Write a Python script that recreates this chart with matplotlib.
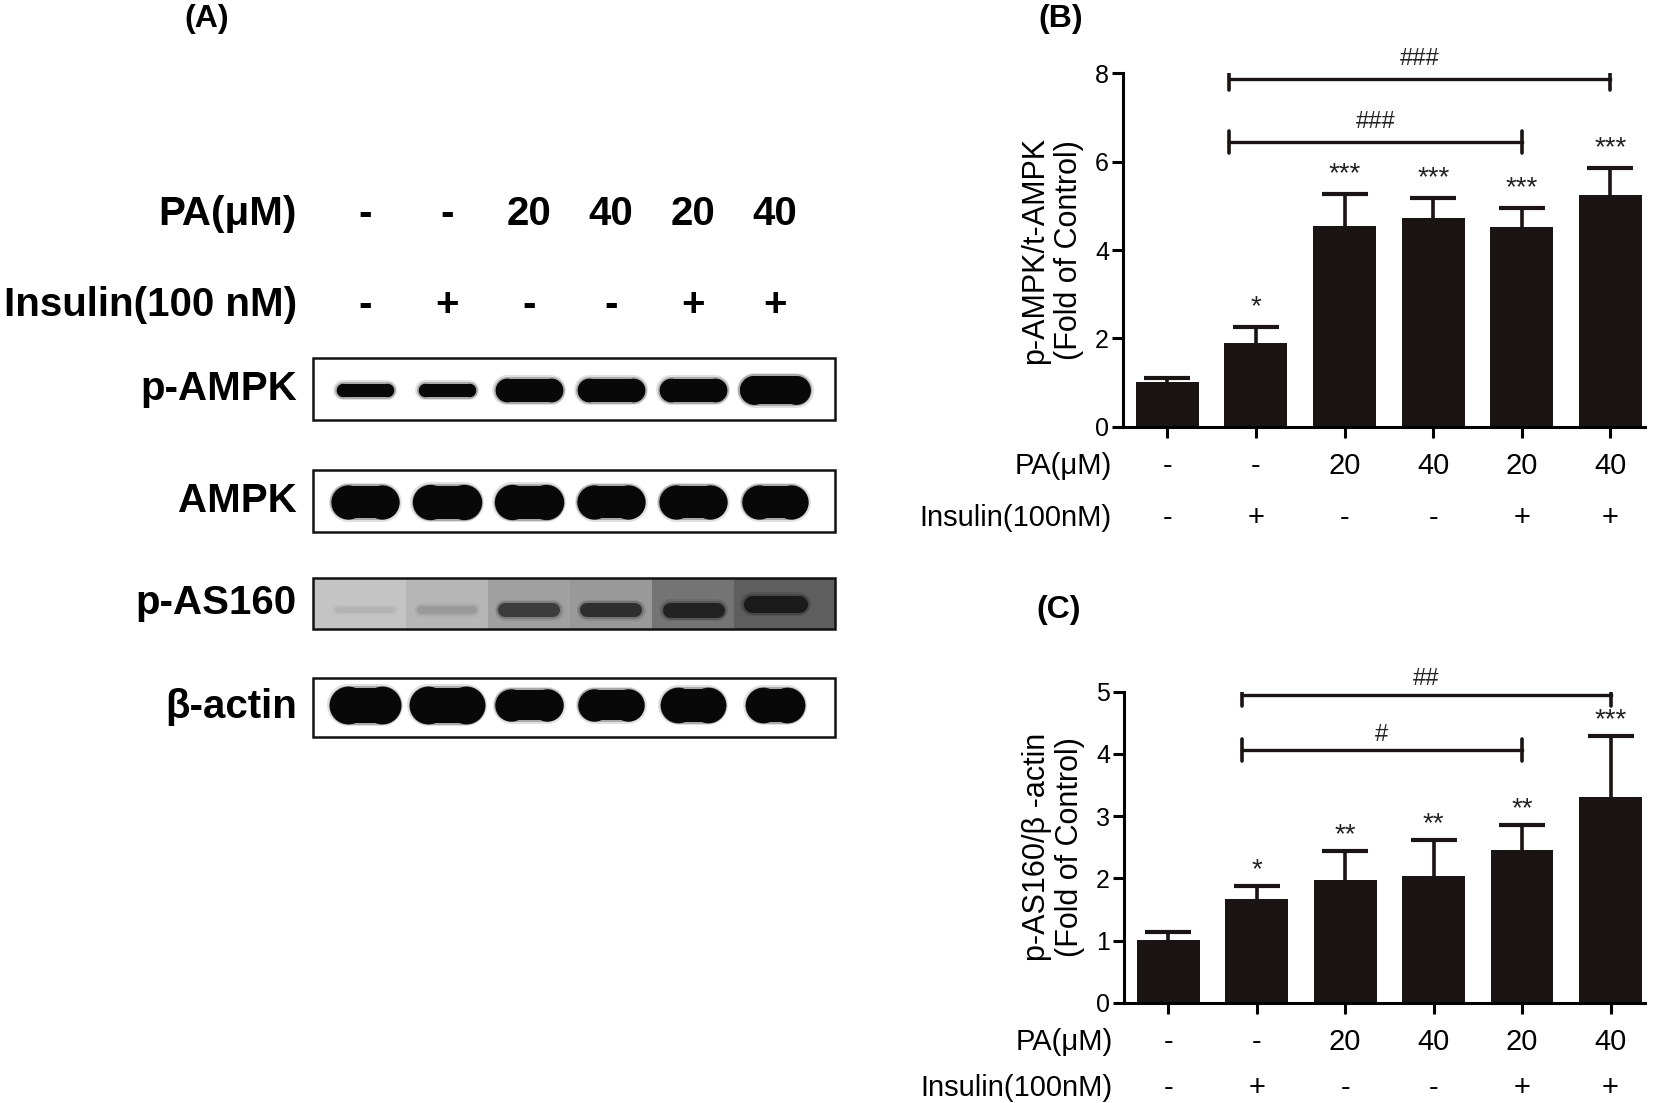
import numpy as np
import matplotlib
matplotlib.use('Agg')
import matplotlib.pyplot as plt
from matplotlib.patches import Rectangle
from matplotlib.transforms import blended_transform_factory

plt.rcParams['font.family'] = ['Liberation Sans', 'DejaVu Sans']

# treatment rows
pa_labels = ['-', '-', '20', '40', '20', '40']
insulin_labels = ['-', '+', '-', '-', '+', '+']

# (B) p-AMPK / t-AMPK, fold of control
ampk_mean = [1.02, 1.90, 4.54, 4.72, 4.51, 5.24]
ampk_sem = [0.08, 0.35, 0.73, 0.45, 0.43, 0.62]
ampk_stars = ['', '*', '***', '***', '***', '***']
ampk_brackets = [(0.70, 5, 7.88, '###'), (0.70, 4, 6.45, '###')]

# (C) p-AS160 / beta-actin, fold of control
as160_mean = [1.01, 1.66, 1.97, 2.04, 2.46, 3.31]
as160_sem = [0.13, 0.22, 0.47, 0.58, 0.40, 0.98]
as160_stars = ['', '*', '**', '**', '**', '***']
as160_brackets = [(0.83, 5, 4.95, '##'), (0.83, 4, 4.06, '#')]

# (A) blot bands: width / height in px, grey level
pampk_w = [57, 57, 67, 67, 67, 70]
pampk_h = [13, 13, 23, 23, 23, 28]
tampk_w = [68, 70, 70, 68, 68, 66]
tampk_h = [32, 33, 33, 32, 32, 32]
pas_bg = ['#c4c4c4', '#b6b6b6', '#a0a0a0', '#999999', '#747474', '#5e5e5e']
pas_band = ['#b4b4b4', '#9a9a9a', '#3c3c3c', '#2e2e2e', '#222222', '#1a1a1a']
pas_w = [60, 60, 62, 62, 62, 64]
pas_h = [6, 8, 14, 14, 15, 17]
actin_w = [72, 75, 68, 66, 66, 60]
actin_h = [35, 35, 30, 30, 33, 33]

W, H = 1654, 1103
BAR = '#1b1414'

fig = plt.figure(figsize=(W / 100, H / 100), dpi=100)


def rect(left, top, right, bottom):
    return [left / W, 1 - bottom / H, (right - left) / W, (bottom - top) / H]


# ---------------- panel A : western blot ----------------
lane_px = 82.0
ax_a = fig.add_axes(rect(313, 0, 835, H))
ax_a.set_xlim(-52 / lane_px, 470 / lane_px)
ax_a.set_ylim(H, 0)
ax_a.axis('off')
x0, x1 = ax_a.get_xlim()
lanes = np.arange(6)
bold = dict(fontsize=29, fontweight='bold', family=['Liberation Sans', 'DejaVu Sans'])


def band(y, lane, w, h, color, bulge=1.0):
    half = max(w - h * bulge, 1) / 2 / lane_px
    xs = [lane - half, lane + half]
    # soft edge, then the core
    for extra, alpha in [(7, 0.12), (4, 0.25)]:
        ax_a.plot(xs, [y, y], color=color, lw=(h + extra) * 0.72,
                  solid_capstyle='round', alpha=alpha, zorder=3)
    ax_a.plot(xs, [y, y], color=color, lw=h * 0.72, solid_capstyle='round', zorder=4)
    if bulge > 1:
        ax_a.plot(xs, [y, y], 'o', color=color, ms=h * bulge * 0.72, mew=0, zorder=4)


blots = [('p-AMPK', 358, 420, 390), ('AMPK', 470, 532, 502),
         ('p-AS160', 578, 629, 610), ('β-actin', 678, 737, 705)]
label_x = -68 / lane_px

for name, top, bottom, yc in blots:
    if name == 'p-AS160':
        edges = [x0, 0.5, 1.5, 2.5, 3.5, 4.5, x1]
        for i in lanes:
            ax_a.add_patch(Rectangle((edges[i], top), edges[i + 1] - edges[i], bottom - top,
                                     color=pas_bg[i], lw=0, zorder=1))
        for i in lanes:
            yy = yc - (6 if i == 5 else 0)
            band(yy, i, pas_w[i], pas_h[i], pas_band[i])
    elif name == 'p-AMPK':
        for i in lanes:
            band(yc, i, pampk_w[i], pampk_h[i], '#080808', 1.03)
    elif name == 'AMPK':
        for i in lanes:
            band(yc, i, tampk_w[i], tampk_h[i], '#080808', 1.07)
    else:
        for i in lanes:
            band(yc, i, actin_w[i], actin_h[i], '#080808', 1.08)
    ax_a.add_patch(Rectangle((x0, top), x1 - x0, bottom - top, fill=False,
                             ec='#111111', lw=1.8, zorder=6, clip_on=False))
    ax_a.text(label_x, (top + bottom) / 2, name, ha='right', va='center', **bold)

ax_a.text(label_x, 214, 'PA(μM)', ha='right', va='center', **bold)
ax_a.text(label_x, 305, 'Insulin(100 nM)', ha='right', va='center', **bold)
for i in lanes:
    ax_a.text(i, 214, pa_labels[i], ha='center', va='center', **bold)
    ax_a.text(i, 305, insulin_labels[i], ha='center', va='center', **bold)


# ---------------- panels B and C : bar charts ----------------
def bar_panel(box, means, sems, stars, gap, brackets, tick_h, ymax, ystep,
              ylabel, row_pa, row_ins):
    ax = fig.add_axes(box)
    x = np.arange(len(means))
    tops = np.array(means) + np.array(sems)
    ax.bar(x, means, width=0.71, color=BAR, zorder=2)
    ax.vlines(x, means, tops, color=BAR, lw=2.6, zorder=3)
    ax.hlines(tops, x - 0.26, x + 0.26, color=BAR, lw=3.0, zorder=3)
    for i, s in enumerate(stars):
        if s:
            ax.text(i, tops[i] + gap, s, ha='center', va='center',
                    fontsize=20, color='#222222')
    for xa, xb, y, lab in brackets:
        ax.plot([xa, xb], [y, y], color=BAR, lw=2.4, zorder=3)
        ax.plot([xa, xa], [y - tick_h, y + tick_h], color=BAR, lw=2.6, solid_capstyle='round')
        ax.plot([xb, xb], [y - tick_h, y + tick_h], color=BAR, lw=2.6, solid_capstyle='round')
        ax.text((xa + xb) / 2, y + gap, lab, ha='center', va='center', fontsize=17,
                color='#222222')

    ax.set_xlim(-0.5, 5.39)
    ax.set_ylim(0, ymax)
    ax.set_yticks(np.arange(0, ymax + 0.01, ystep))
    ax.set_xticks(x)
    ax.set_xticklabels([])
    for side in ['top', 'right']:
        ax.spines[side].set_visible(False)
    for side in ['left', 'bottom']:
        ax.spines[side].set_linewidth(2.2)
    ax.tick_params(axis='both', length=8, width=2.2, labelsize=18, pad=2)
    ax.set_ylabel(ylabel, fontsize=22, linespacing=1.15, labelpad=8)

    trans = blended_transform_factory(ax.transData, fig.transFigure)
    ax.text(-0.63, 1 - row_pa / H, 'PA(μM)', transform=trans, ha='right', va='center',
            fontsize=21)
    ax.text(-0.63, 1 - row_ins / H, 'Insulin(100nM)', transform=trans, ha='right',
            va='center', fontsize=21)
    for i in x:
        ax.text(i, 1 - row_pa / H, pa_labels[i], transform=trans, ha='center',
                va='center', fontsize=21)
        ax.text(i, 1 - row_ins / H, insulin_labels[i], transform=trans, ha='center',
                va='center', fontsize=21)
    return ax


bar_panel(rect(1123, 73.3, 1645, 426.7), ampk_mean, ampk_sem, ampk_stars, 0.45,
          ampk_brackets, 0.25, 8, 2, 'p-AMPK/t-AMPK\n(Fold of Control)', 466, 518)
bar_panel(rect(1124, 691.7, 1645, 1002.7), as160_mean, as160_sem, as160_stars, 0.25,
          as160_brackets, 0.18, 5, 1, 'p-AS160/β -actin\n(Fold of Control)', 1042, 1088)

fig.text(207 / W, 1 - 19 / H, '(A)', ha='center', va='center', fontsize=23, fontweight='bold')
fig.text(1061 / W, 1 - 19 / H, '(B)', ha='center', va='center', fontsize=23, fontweight='bold')
fig.text(1059 / W, 1 - 610 / H, '(C)', ha='center', va='center', fontsize=23, fontweight='bold')

fig.savefig('out.png', dpi=100, facecolor='white')
